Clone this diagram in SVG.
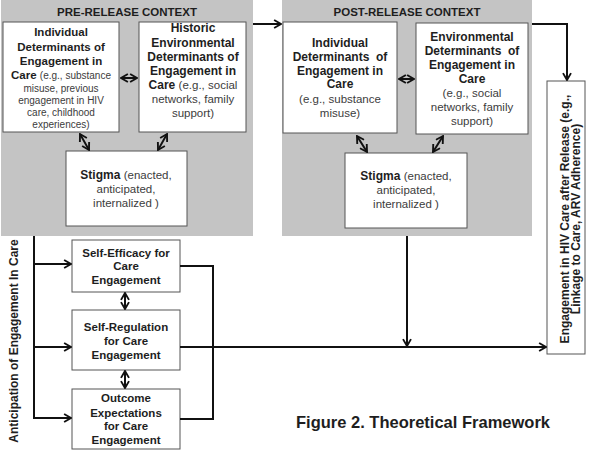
<svg xmlns="http://www.w3.org/2000/svg" width="600" height="450" viewBox="0 0 600 450">
<style>
.ctx{fill:#c4c4c4}
.box{fill:#fff;stroke:#555;stroke-width:1}
.b{font-family:"Liberation Sans",Arial,sans-serif;font-weight:bold;font-size:12px;fill:#1e1e1e;text-anchor:middle}
.s{font-size:11.5px}
.n{font-family:"Liberation Sans",Arial,sans-serif;font-weight:normal;font-size:11.5px;fill:#3c3c3c}
.n10{font-size:10px}
.t{font-family:"Liberation Sans",Arial,sans-serif;font-weight:bold;font-size:11.5px;fill:#1e1e1e;text-anchor:middle}
.ln{fill:none;stroke:#111;stroke-width:2}
.dbl{fill:none;stroke:#111;stroke-width:2;marker-start:url(#ah);marker-end:url(#ah)}
.ar{fill:none;stroke:#111;stroke-width:2;marker-end:url(#ah)}
</style>
<defs>
<marker id="ah" viewBox="0 0 8 8" refX="7" refY="4" markerWidth="5" markerHeight="5" orient="auto-start-reverse" markerUnits="strokeWidth">
<path d="M1.5,0.8 L7,4 L1.5,7.2" fill="none" stroke="#111" stroke-width="1.5"/>
</marker>
</defs>
<rect width="600" height="450" fill="#fff"/>

<g id="pre-context">
<rect class="ctx" x="1" y="0" width="252" height="236"/>
<text class="t" x="127" y="16">PRE-RELEASE CONTEXT</text>
</g>
<g id="post-context">
<rect class="ctx" x="282" y="0" width="250" height="236"/>
<text class="t" x="407" y="16">POST-RELEASE CONTEXT</text>
</g>

<g id="pre-individual">
<rect class="box" x="3" y="22" width="116" height="110"/>
<text class="b s" x="61" y="36">Individual</text>
<text class="b s" x="61" y="51">Determinants of</text>
<text class="b s" x="61" y="65">Engagement in</text>
<text class="b s" x="61" y="79">Care <tspan class="n n10">(e.g., substance</tspan></text>
<text class="b" x="61" y="92"><tspan class="n n10">misuse, previous</tspan></text>
<text class="b" x="61" y="104"><tspan class="n n10">engagement in HIV</tspan></text>
<text class="b" x="61" y="116"><tspan class="n n10">care, childhood</tspan></text>
<text class="b" x="61" y="128"><tspan class="n n10">experiences)</tspan></text>
</g>

<g id="pre-environmental">
<rect class="box" x="139" y="22" width="107" height="110"/>
<text class="b" x="193" y="32">Historic</text>
<text class="b" x="193" y="47">Environmental</text>
<text class="b" x="193" y="61">Determinants of</text>
<text class="b" x="193" y="75">Engagement in</text>
<text class="b" x="193" y="89">Care <tspan class="n">(e.g., social</tspan></text>
<text class="b" x="193" y="103"><tspan class="n">networks, family</tspan></text>
<text class="b" x="193" y="117"><tspan class="n">support)</tspan></text>
</g>

<g id="pre-stigma">
<rect class="box" x="66" y="151" width="121" height="75"/>
<text class="b" x="126" y="179">Stigma <tspan class="n">(enacted,</tspan></text>
<text class="b" x="126" y="193"><tspan class="n">anticipated,</tspan></text>
<text class="b" x="126" y="207"><tspan class="n">internalized )</tspan></text>
</g>

<g id="post-individual">
<rect class="box" x="283" y="22" width="114" height="111"/>
<text class="b" x="340" y="47">Individual</text>
<text class="b" x="340" y="61" xml:space="preserve">Determinants  of</text>
<text class="b" x="340" y="75">Engagement in</text>
<text class="b" x="340" y="88">Care</text>
<text class="b" x="340" y="103"><tspan class="n">(e.g., substance</tspan></text>
<text class="b" x="340" y="117"><tspan class="n">misuse)</tspan></text>
</g>

<g id="post-environmental">
<rect class="box" x="416" y="23" width="112" height="111"/>
<text class="b" x="472" y="41">Environmental</text>
<text class="b" x="472" y="55" xml:space="preserve">Determinants  of</text>
<text class="b" x="472" y="69">Engagement in</text>
<text class="b" x="472" y="83">Care</text>
<text class="b" x="472" y="97"><tspan class="n">(e.g., social</tspan></text>
<text class="b" x="472" y="111"><tspan class="n">networks, family</tspan></text>
<text class="b" x="472" y="125"><tspan class="n">support)</tspan></text>
</g>

<g id="post-stigma">
<rect class="box" x="345" y="153" width="122" height="75"/>
<text class="b" x="406" y="180">Stigma <tspan class="n">(enacted,</tspan></text>
<text class="b" x="406" y="194"><tspan class="n">anticipated,</tspan></text>
<text class="b" x="406" y="208"><tspan class="n">internalized )</tspan></text>
</g>

<g id="self-efficacy">
<rect class="box" x="72" y="240" width="108" height="52"/>
<text class="b s" x="126" y="257">Self-Efficacy for</text>
<text class="b s" x="126" y="270">Care</text>
<text class="b s" x="126" y="284">Engagement</text>
</g>

<g id="self-regulation">
<rect class="box" x="72" y="310" width="108" height="60"/>
<text class="b s" x="126" y="331">Self-Regulation</text>
<text class="b s" x="126" y="345">for Care</text>
<text class="b s" x="126" y="359">Engagement</text>
</g>

<g id="outcome-expectations">
<rect class="box" x="72" y="389" width="108" height="60"/>
<text class="b s" x="126" y="402">Outcome</text>
<text class="b s" x="126" y="417">Expectations</text>
<text class="b s" x="126" y="430">for Care</text>
<text class="b s" x="126" y="444">Engagement</text>
</g>

<g id="engagement-outcome">
<rect class="box" x="547" y="81" width="38" height="273"/>
<text class="b" transform="translate(569,219) rotate(-90)">Engagement in HIV Care after Release (e.g.,</text>
<text class="b" transform="translate(580,219) rotate(-90)">Linkage to Care, ARV Adherence)</text>
</g>

<g id="anticipation-label">
<text class="b" font-size="11.3px" transform="translate(18,341) rotate(-90)">Anticipation of Engagement In Care</text>
</g>

<g id="caption">
<text x="423" y="428" font-family="Liberation Sans, Arial, sans-serif" font-weight="bold" font-size="16.5px" fill="#1e1e1e" text-anchor="middle">Figure 2. Theoretical Framework</text>
</g>

<g id="connectors">
<path class="ar" d="M253,24 H281"/>
<path class="ar" d="M532,24 H567 V80"/>
<path class="dbl" d="M121,78 H137"/>
<path class="dbl" d="M80,134 L89,150"/>
<path class="dbl" d="M167,134 L158,150"/>
<path class="dbl" d="M399,79 H414"/>
<path class="dbl" d="M357,136 L367,152"/>
<path class="dbl" d="M443,136 L433,152"/>
<path class="ln" d="M34,236 V419"/>
<path class="ar" d="M34,264 H71"/>
<path class="ar" d="M34,347 H71"/>
<path class="ar" d="M34,418 H71"/>
<path class="ln" d="M180,266 H213 V419 H180"/>
<path class="ar" d="M180,347 H546"/>
<path class="ar" d="M407,236 V346"/>
<path class="dbl" d="M125,293 V309"/>
<path class="dbl" d="M125,371 V388"/>
</g>
</svg>
